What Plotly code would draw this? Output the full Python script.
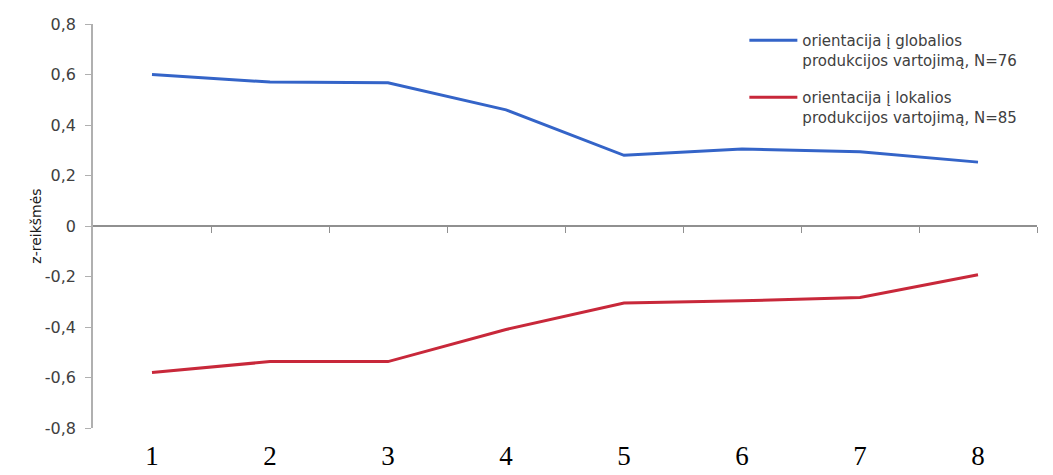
import plotly.graph_objects as go

categories = [1, 2, 3, 4, 5, 6, 7, 8]
tick_labels = ["1", "2", "3", "4", "5", "6", "7", "8"]
global_values = [0.60, 0.57, 0.567, 0.46, 0.28, 0.305, 0.294, 0.253]
local_values = [-0.58, -0.537, -0.537, -0.41, -0.305, -0.296, -0.283, -0.193]
global_name = "orientacija į globalios<br>produkcijos vartojimą, N=76"
local_name = "orientacija į lokalios<br>produkcijos vartojimą, N=85"
y_ticks = [-0.8, -0.6, -0.4, -0.2, 0, 0.2, 0.4, 0.6, 0.8]
y_tick_text = ["-0,8", "-0,6", "-0,4", "-0,2", "0", "0,2", "0,4", "0,6", "0,8"]
boundary_ticks = [1.5, 2.5, 3.5, 4.5, 5.5, 6.5, 7.5, 8.5]

fig = go.Figure()
fig.add_trace(go.Scatter(x=categories, y=global_values, mode="lines", name=global_name,
                         legendgroup="g", line=dict(color="#3464c8", width=3)))
fig.add_trace(go.Scatter(x=categories, y=local_values, mode="lines", name=local_name,
                         legendgroup="l", line=dict(color="#c8283a", width=3)))
# invisible trace to anchor the zero-positioned axis
fig.add_trace(go.Scatter(x=categories, y=global_values, xaxis="x2", mode="lines",
                         line=dict(width=0), showlegend=False, hoverinfo="skip", opacity=0))

# page body has an 8px default margin; the figure is sized to fill the rest of the window
fig.update_layout(
    width=1045, height=467,
    margin=dict(l=85, r=16, t=16, b=47, autoexpand=False),
    paper_bgcolor="white", plot_bgcolor="white",
    font=dict(family="DejaVu Sans", color="#404040"),
    showlegend=True,
    legend=dict(x=0.69, y=1.0, xanchor="left", yanchor="top", valign="top",
                font=dict(size=15, color="#404040", family="DejaVu Sans"),
                bgcolor="rgba(0,0,0,0)", tracegroupgap=15, itemwidth=48),
    xaxis=dict(range=[0.5, 8.5], tickvals=categories, ticktext=tick_labels,
               showgrid=False, zeroline=False, showline=False, automargin=False,
               ticks="outside", ticklen=4, tickcolor="rgba(0,0,0,0)",
               tickfont=dict(family="Liberation Serif", size=27, color="black")),
    xaxis2=dict(range=[0.5, 8.5], overlaying="x", anchor="free", position=0.5,
                side="bottom", showgrid=False, zeroline=False, showline=True,
                automargin=False,
                linecolor="#909090", linewidth=1.5, ticks="outside", ticklen=6,
                tickcolor="#909090", tickvals=boundary_ticks, showticklabels=False),
    yaxis=dict(range=[-0.8, 0.8], tickvals=y_ticks, ticktext=y_tick_text,
               showgrid=False, zeroline=False, showline=True, linecolor="#b0b0b0",
               linewidth=1.5, ticks="outside", ticklen=6, tickcolor="#b0b0b0",
               ticklabelstandoff=6, automargin=False,
               tickfont=dict(family="DejaVu Sans", size=16, color="#404040"),
               title=dict(text="z-reikšmės", standoff=0,
                          font=dict(family="DejaVu Sans", size=14, color="#1a1a1a"))),
)

fig.write_html("out.html")
